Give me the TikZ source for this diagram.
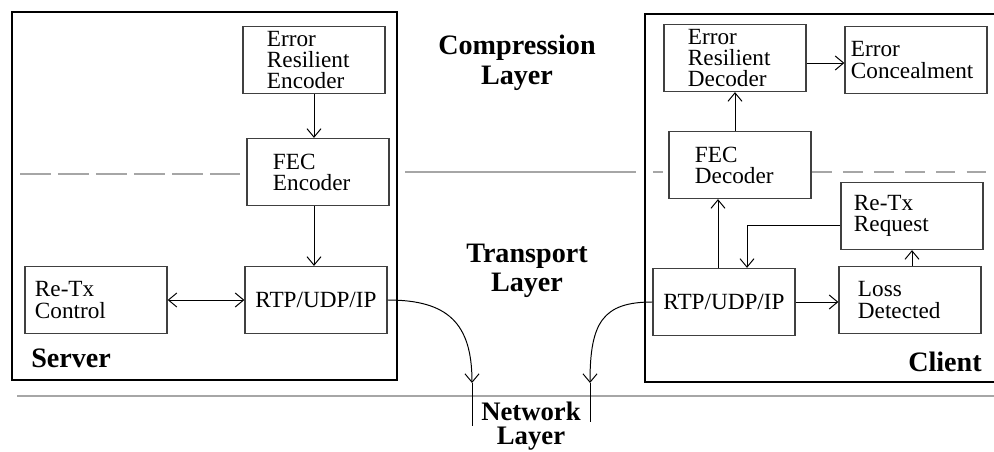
\documentclass[tikz,border=0pt]{standalone}
\usepackage{fontspec}
\setmainfont{Liberation Serif}
\usetikzlibrary{arrows.meta,calc}

\tikzset{
  blk/.style={draw=black!75, line width=0.9pt, minimum width=3.55cm, minimum height=1.675cm,
    inner ysep=0pt, align=left, font=\fontsize{16.5}{15}\selectfont},
  pad/.code={\pgfmathsetlengthmacro\padx{#1*0.025cm}%
    \pgfmathsetlengthmacro\padw{3.55cm-2*#1*0.025cm}%
    \tikzset{inner xsep=\padx, text width=\padw}},
  lbl/.style={inner sep=0pt, font=\fontsize{20}{21}\selectfont\bfseries},
  host/.style={line width=2pt},
  layer/.style={draw=black!35, line width=2pt},
  conn/.style={line width=0.7pt},
  arr/.style={conn, -{Straight Barb[length=6pt,width=10pt]}},
  darr/.style={conn, {Straight Barb[length=6pt,width=10pt]}-{Straight Barb[length=6pt,width=10pt]}}
}

\begin{document}
\begin{tikzpicture}[x=0.025cm, y=-0.025cm]
  \useasboundingbox (0,0) rectangle (994,452);

  % server and client hosts
  \draw[host] (12,12) rectangle (397,380);
  \draw[host] (645,14) rectangle (1000,382);

  % layer borders
  \draw[layer, dash pattern=on 22pt off 5pt] (20,174) -- (240,174);
  \draw[layer] (405,172) -- (636,172);
  \draw[layer] (653,172) -- (663,172);
  \draw[layer, dash pattern=on 14pt off 8pt] (812,172) -- (994,172);
  \draw[layer] (17,396) -- (994,396);

  % server side
  \node[blk, pad=24] (ere) at (314,60) {Error\\Resilient\\Encoder};
  \node[blk, pad=26] (fecenc) at (318,172) {FEC\\Encoder};
  \node[blk, pad=10] (retxc) at (96,300) {Re-Tx\\Control};
  \node[blk, align=center] (rtps) at (316,300) {RTP/UDP/IP};

  % client side
  \node[blk, pad=24] (erd) at (735,58) {Error\\Resilient\\Decoder};
  \node[blk, pad=6] (ec) at (916,60) {Error\\Concealment};
  \node[blk, pad=26] (fecdec) at (740,165) {FEC\\Decoder};
  \node[blk, pad=13] (retxr) at (912,216) {Re-Tx\\Request};
  \node[blk, align=center] (rtpc) at (724,302) {RTP/UDP/IP};
  \node[blk, pad=19] (loss) at (910,300) {Loss\\Detected};

  % labels
  \node[lbl, anchor=west] (server) at (31,358) {Server};
  \node[lbl, anchor=east] (client) at (982,362) {Client};
  \node[lbl, align=center] (complay) at (517,63) {Compression\\Layer};
  \node[lbl, align=center] (translay) at (527,271) {Transport\\Layer};
  \node[lbl, align=center, font=\fontsize{19}{17.5}\selectfont\bfseries] (netlay) at (531,426) {Network\\Layer};

  % server connectors
  \draw[arr] (ere.south) -- (ere.south |- fecenc.north);
  \draw[arr] (ere.south |- fecenc.south) -- (ere.south |- rtps.north);
  \draw[darr] (retxc.east) -- (rtps.west);

  % client connectors
  \coordinate (erdout) at ($(erd.east)+(0,5)$);
  \coordinate (rtpup) at ($(rtpc.north)+(-6,0)$);
  \coordinate (reqout) at ($(retxr.west)+(0,9)$);
  \coordinate (rtpin) at ($(rtpc.north)+(23,0)$);
  \draw[arr] (erdout) -- (erdout -| ec.west);
  \draw[arr] (erd.south |- fecdec.north) -- (erd.south);
  \draw[arr] (rtpup) -- (rtpup |- fecdec.south);
  \draw[arr] (reqout) -| (rtpin);
  \draw[arr] (loss.north -| retxr.south) -- (retxr.south);
  \draw[arr] (rtpc.east) -- (rtpc.east -| loss.west);

  % network drops
  \coordinate (sdrop) at (472,383);
  \coordinate (sdropend) at (472,426);
  \coordinate (cdrop) at (590,383);
  \coordinate (cdropend) at (590,422);
  \draw[arr] (rtps.east) .. controls +(60,0) and +(0,-60) .. (sdrop);
  \draw[conn] (sdrop) -- (sdropend);
  \draw[arr] (rtpc.west) .. controls +(-50,0) and +(0,-60) .. (cdrop);
  \draw[conn] (cdrop) -- (cdropend);
\end{tikzpicture}
\end{document}
